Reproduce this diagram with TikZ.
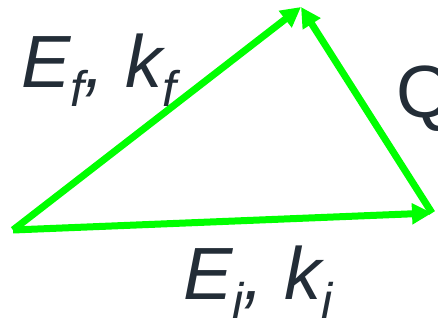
\documentclass[tikz,border=0pt]{standalone}
\usepackage{fontspec}
\setmainfont{Liberation Sans}
\usetikzlibrary{arrows.meta}
\definecolor{vgreen}{HTML}{00FF00}
\definecolor{txt}{HTML}{232D37}
\newcommand\bigsz{\fontsize{74}{74}\selectfont}
\newcommand\subsz{\fontsize{50}{50}\selectfont}
\newcommand\lsub[1]{\raisebox{-19pt}{\subsz #1}}
\begin{document}
\begin{tikzpicture}[x=1pt,y=-1pt,
  vec/.style={draw=vgreen, line width=7pt, -{Triangle[length=20pt,width=20pt]}},
  lab/.style={anchor=base west, inner sep=0pt, text=txt, font=\bigsz}]
\useasboundingbox (0,0) rectangle (438,320);
\coordinate (L) at (13,230);
\coordinate (R) at (432,213);
\coordinate (T) at (301,7);
\draw[vec] (L) -- (T);
\draw[vec] (L) -- (R);
\draw[vec] (R) -- (T);
\node[lab] (kf) at (21,88) {\itshape E\lsub{f}, k\lsub{f}};
\node[lab] (Q) at (396,118) {Q};
\node[lab] (ki) at (183,299) {\itshape E\lsub{i}, k\lsub{i}};
\end{tikzpicture}
\end{document}
